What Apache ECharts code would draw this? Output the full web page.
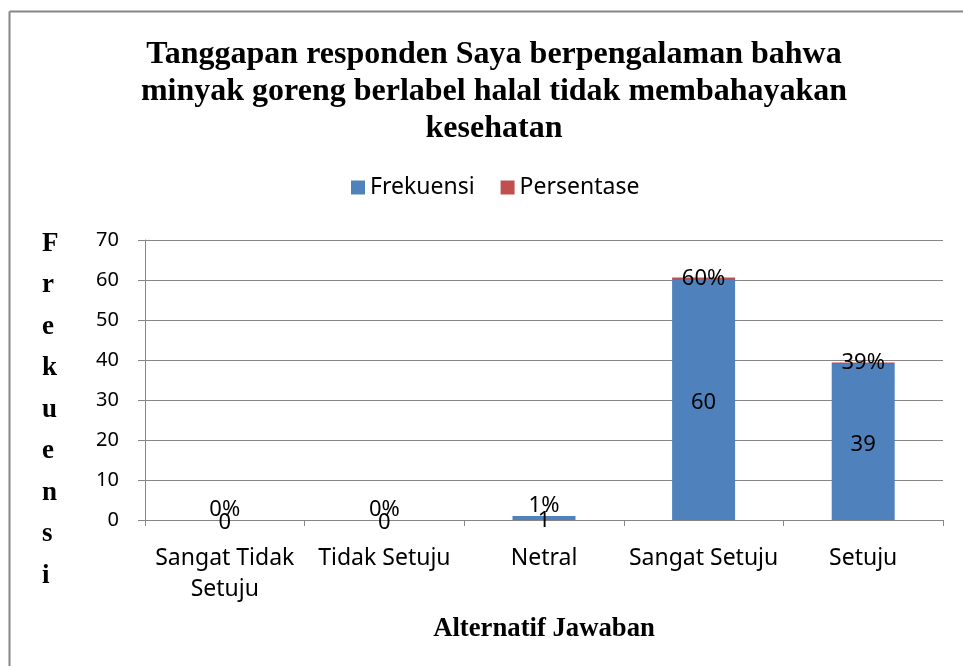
<!DOCTYPE html>
<html>
<head>
<meta charset="utf-8">
<script src="https://cdn.jsdelivr.net/npm/echarts@6/dist/echarts.min.js"></script>
<style>
  html, body { margin: 0; padding: 0; background: #fff; }
  #chart { width: 963px; height: 666px; }
</style>
</head>
<body>
<div id="chart"></div>
<script>
// data
var categories = ['Sangat Tidak\nSetuju', 'Tidak Setuju', 'Netral', 'Sangat Setuju', 'Setuju'];
var frekuensi = [0, 0, 1, 60, 39];
var persentase = [0, 0, 0.01, 0.60, 0.39];
var yTicks = { min: 0, max: 70, interval: 10 };

var sansFont = '"Noto Sans"';
var serifFont = '"Liberation Serif", "DejaVu Serif", serif';

var chart = echarts.init(document.getElementById('chart'), null, { renderer: 'canvas' });

// small values get their % label pushed up a bit like excel does
var persenData = persentase.map(function (v) {
  return {
    value: v,
    label: { offset: v < 0.05 ? [0, -10] : [0, 0] }
  };
});

var option = {
  animation: false,
  backgroundColor: '#fff',
  title: {
    text: 'Tanggapan responden Saya berpengalaman bahwa\nminyak goreng berlabel halal tidak membahayakan\nkesehatan',
    left: 489,
    top: 31,
    textAlign: 'center',
    textStyle: {
      fontFamily: serifFont,
      fontWeight: 'bold',
      fontSize: 32,
      lineHeight: 37,
      color: '#000'
    }
  },
  legend: {
    top: 171,
    left: 346,
    itemWidth: 14,
    itemHeight: 14,
    itemGap: 26,
    icon: 'rect',
    textStyle: { fontFamily: sansFont, fontSize: 23, color: '#000' },
    data: ['Frekuensi', 'Persentase']
  },
  grid: { left: 145, right: 20, top: 240, bottom: 146, containLabel: false },
  xAxis: {
    type: 'category',
    data: categories,
    name: 'Alternatif Jawaban',
    nameLocation: 'middle',
    nameGap: 96,
    nameTextStyle: { fontFamily: serifFont, fontWeight: 'bold', fontSize: 26.7, color: '#000' },
    axisLine: { lineStyle: { color: '#868686', width: 1 } },
    axisTick: { show: true, length: 6, lineStyle: { color: '#868686' } },
    axisLabel: {
      fontFamily: sansFont, fontSize: 23, color: '#000',
      margin: 23, lineHeight: 31, interval: 0
    }
  },
  yAxis: {
    type: 'value',
    min: yTicks.min,
    max: yTicks.max,
    interval: yTicks.interval,
    axisLine: { show: true, lineStyle: { color: '#868686' } },
    axisTick: { show: true, length: 7, lineStyle: { color: '#868686' } },
    splitLine: { lineStyle: { color: '#868686', width: 1 } },
    axisLabel: { fontFamily: sansFont, fontSize: 20, color: '#000', margin: 26 }
  },
  series: [
    {
      name: 'Frekuensi',
      type: 'bar',
      stack: 'total',
      barWidth: 63,
      itemStyle: { color: '#4F81BD' },
      label: {
        show: true, position: 'inside', offset: [0, 3],
        fontFamily: sansFont, fontSize: 22, color: '#000'
      },
      data: frekuensi
    },
    {
      name: 'Persentase',
      type: 'bar',
      stack: 'total',
      barWidth: 63,
      itemStyle: { color: '#C0504D' },
      label: {
        show: true, position: 'inside',
        fontFamily: sansFont, fontSize: 22, color: '#000',
        formatter: function (p) { return Math.round(p.value * 100) + '%'; }
      },
      data: persenData
    }
  ],
  graphic: [
    {
      type: 'text',
      left: 42,
      top: 223,
      style: {
        text: 'F\nr\ne\nk\nu\ne\nn\ns\ni',
        font: 'bold 27px ' + serifFont,
        lineHeight: 41.5,
        align: 'center',
        fill: '#000'
      }
    },
    {
      type: 'line',
      shape: { x1: 9.5, y1: 11.5, x2: 963, y2: 11.5 },
      style: { stroke: '#868686', lineWidth: 2 }
    },
    {
      type: 'line',
      shape: { x1: 9.5, y1: 11.5, x2: 9.5, y2: 666 },
      style: { stroke: '#868686', lineWidth: 2 }
    }
  ]
};

chart.setOption(option);
</script>
</body>
</html>
